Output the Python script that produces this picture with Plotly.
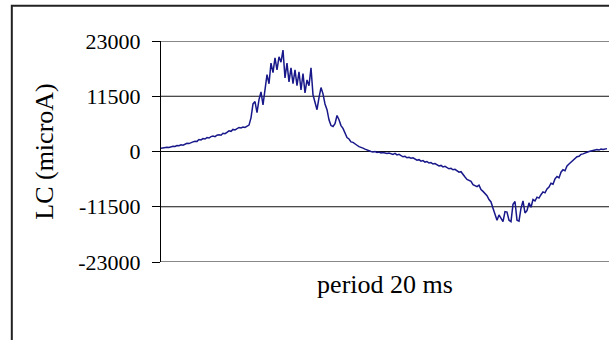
import plotly.graph_objects as go

# Leakage current over one 20 ms period (microA), one sample every step
lc_values = [
    700, 800, 750, 900, 850, 1000, 1100, 1050, 1250, 1200,
    1400, 1300, 1500, 1700, 1650, 1900, 2000, 2150, 2100, 2500,
    2400, 2700, 2600, 2900, 2800, 3100, 3200, 3100, 3400, 3500,
    3400, 3800, 3700, 4000, 4300, 4200, 4600, 4500, 4800, 5000,
    4900, 5100, 5000, 5300, 5500,
    7000, 9900, 10400, 8100, 10800, 12400, 9700, 12800, 16000, 14100,
    18400, 16400, 19500, 17000, 19700, 18600, 21100, 15300, 18400, 14500,
    17400, 14100, 17000, 13700, 16600, 12800, 16200, 12200, 14900, 13700,
    17400, 11800, 9900, 8700, 11200, 13300, 12000, 9900, 8700, 6600,
    5400, 5200, 5800, 7500, 6600, 5400, 4800, 3700,
    2900, 2600, 2000, 1900, 1500, 1300, 1000, 900, 700, 500,
    300, 100, 0, -100, 0, -200, -100, -300, -200, -300,
    -400, -300, -500, -600, -400, -700, -600, -900, -1100, -1000,
    -1300, -1200, -1400, -1300, -1600, -1800, -1700, -2000, -1900, -2200,
    -2100, -2400, -2300, -2600, -2500, -2800, -3000, -2900, -3200, -3100,
    -3400, -3600, -3500, -3800, -3700, -4100, -4300, -4200, -4900, -5300,
    -5800, -6000, -6200, -6900, -7100, -7300, -7000, -7900, -8300, -8700,
    -9200, -10000, -10500, -11800, -13300, -14300, -13200, -14000, -14600, -12500,
    -12600, -14300, -14600, -11000, -10400, -14300, -14500, -11800, -10300, -12800,
    -12300, -10700, -11600, -10000, -10300, -9500, -9700, -9000, -8400, -8600,
    -7800, -7400, -6600, -6800, -5700, -5200, -5500, -4300, -3800, -4000,
    -3000, -2600, -2200, -1900, -1500, -1100, -1000, -600, -500, -300,
    -200, 0, 100, 200, 200, 400, 300, 500, 400, 500,
    600,
]
sample_index = list(range(len(lc_values)))

y_ticks = [-23000, -11500, 0, 11500, 23000]
y_tick_labels = ["-23000", "-11500", "0", "11500", "23000"]

serif = "Liberation Serif, Times New Roman, serif"

fig = go.Figure()
fig.add_trace(go.Scatter(
    x=sample_index,
    y=lc_values,
    mode="lines",
    line=dict(color="#18188a", width=1.5),
    hoverinfo="skip",
    showlegend=False,
))

# horizontal rules at every tick value, including the two range ends
grid_shapes = [
    dict(type="line", xref="paper", yref="y", x0=0, x1=1, y0=v, y1=v,
         line=dict(color="#111111", width=1), layer="below")
    for v in y_ticks
]

fig.update_layout(
    width=609,
    height=340,
    margin=dict(l=161, r=0, t=41, b=78),
    paper_bgcolor="white",
    plot_bgcolor="white",
    font=dict(family=serif, color="black", size=22),
    xaxis=dict(
        range=[0, 224],
        showgrid=False,
        zeroline=False,
        showline=False,
        showticklabels=False,
        ticks="",
        title=dict(text="period 20 ms", font=dict(family=serif, size=26), standoff=12),
        fixedrange=True,
    ),
    yaxis=dict(
        range=[-23000, 23000],
        tickvals=y_ticks,
        ticktext=y_tick_labels,
        showgrid=False,
        zeroline=False,
        showline=True,
        linecolor="black",
        linewidth=1,
        ticks="outside",
        ticklen=8,
        tickcolor="black",
        ticklabelstandoff=7,
        tickfont=dict(family=serif, size=22),
        title=dict(text="LC (microA)", font=dict(family=serif, size=26), standoff=17),
        fixedrange=True,
    ),
    shapes=grid_shapes + [
        # chart frame running off the right and bottom edges
        dict(type="rect", xref="paper", yref="paper",
             x0=-0.333, x1=1.05, y0=-0.5, y1=1.16,
             line=dict(color="#222222", width=2), layer="below"),
    ],
)

fig.write_html("out.html")
